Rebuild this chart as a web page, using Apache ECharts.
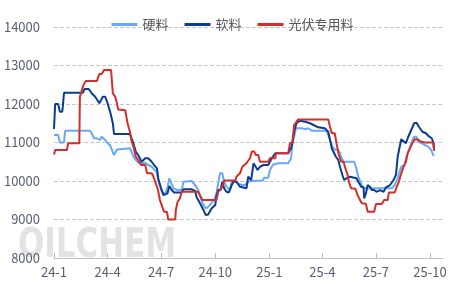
<!DOCTYPE html>
<html><head><meta charset="utf-8">
<script src="https://cdn.jsdelivr.net/npm/echarts@6/dist/echarts.min.js"></script>
<style>html,body{margin:0;padding:0;background:#fff}#c{width:465px;height:287px}</style>
</head><body><div id="c"></div>
<script>
var seriesNames = ['硬料','软料','光伏专用料'];
var tickDates = ['2024-01-01','2024-04-01','2024-07-01','2024-10-01','2025-01-01','2025-04-01','2025-07-01','2025-10-01'];
var tickLabels = ['24-1','24-4','24-7','24-10','25-1','25-4','25-7','25-10'];
var yTicks = [8000,9000,10000,11000,12000,13000,14000];
var xRange = ['2024-01-01','2025-10-23'];

var hardData = [['2024-01-01',11195],['2024-01-08',11195],['2024-01-11',11000],['2024-01-18',11000],['2024-01-20',11305],['2024-03-02',11305],['2024-03-05',11240],['2024-03-08',11240],['2024-03-09',11110],['2024-03-14',11110],['2024-03-16',11130],['2024-03-19',11065],['2024-03-22',11150],['2024-03-25',11150],['2024-03-28',11065],['2024-04-01',10980],['2024-04-05',10935],['2024-04-08',10890],['2024-04-12',10675],['2024-04-17',10820],['2024-04-19',10850],['2024-05-09',10850],['2024-05-12',10760],['2024-05-15',10630],['2024-05-19',10545],['2024-05-23',10475],['2024-05-29',10460],['2024-06-04',10475],['2024-06-09',10415],['2024-06-15',10370],['2024-06-19',10300],['2024-06-24',10240],['2024-06-26',10025],['2024-07-01',9765],['2024-07-05',9680],['2024-07-09',9700],['2024-07-12',9850],['2024-07-15',10070],['2024-07-18',10025],['2024-07-22',9810],['2024-07-28',9765],['2024-08-05',9765],['2024-08-08',9980],['2024-08-22',10000],['2024-08-29',9870],['2024-09-02',9765],['2024-09-07',9525],['2024-09-11',9375],['2024-09-15',9290],['2024-09-19',9330],['2024-09-24',9420],['2024-09-29',9505],['2024-10-03',9680],['2024-10-06',9940],['2024-10-09',10200],['2024-10-13',10200],['2024-10-16',9980],['2024-10-20',9850],['2024-10-26',9765],['2024-10-29',9980],['2024-11-04',10000],['2024-11-09',9940],['2024-11-15',9895],['2024-11-21',9895],['2024-11-26',9980],['2024-12-02',10000],['2024-12-21',10010],['2024-12-23',10085],['2024-12-30',10085],['2025-01-02',10285],['2025-01-05',10370],['2025-01-08',10430],['2025-01-16',10460],['2025-02-02',10460],['2025-02-07',10590],['2025-02-09',10980],['2025-02-12',11150],['2025-02-15',11370],['2025-02-25',11370],['2025-03-03',11345],['2025-03-08',11370],['2025-03-14',11305],['2025-04-08',11305],['2025-04-12',11150],['2025-04-14',11110],['2025-04-18',10895],['2025-04-22',10820],['2025-04-28',10805],['2025-05-01',10720],['2025-05-04',10590],['2025-05-07',10500],['2025-05-25',10500],['2025-05-28',10370],['2025-06-01',10110],['2025-06-07',9895],['2025-06-11',9810],['2025-07-28',9810],['2025-08-02',9895],['2025-08-07',10070],['2025-08-11',10285],['2025-08-14',10390],['2025-08-18',10390],['2025-08-22',10630],['2025-08-26',10805],['2025-08-31',11020],['2025-09-04',11150],['2025-09-08',11150],['2025-09-11',11020],['2025-09-17',10980],['2025-09-22',10935],['2025-09-28',10895],['2025-10-03',10805],['2025-10-07',10650]];

var softData = [['2024-01-01',11350],['2024-01-03',12000],['2024-01-08',12000],['2024-01-11',11800],['2024-01-15',11800],['2024-01-16',11930],['2024-01-18',12290],['2024-02-19',12290],['2024-02-22',12390],['2024-02-29',12390],['2024-03-05',12280],['2024-03-11',12190],['2024-03-14',12190],['2024-03-18',12020],['2024-03-24',12190],['2024-03-28',12190],['2024-04-01',12020],['2024-04-06',11760],['2024-04-10',11500],['2024-04-12',11220],['2024-05-09',11220],['2024-05-15',10975],['2024-05-19',10760],['2024-05-23',10675],['2024-05-29',10500],['2024-06-04',10590],['2024-06-09',10590],['2024-06-15',10500],['2024-06-19',10415],['2024-06-24',10330],['2024-06-26',10070],['2024-07-01',9810],['2024-07-05',9635],['2024-07-08',9620],['2024-07-12',9680],['2024-07-15',9870],['2024-07-19',9765],['2024-07-23',9700],['2024-08-05',9700],['2024-08-08',9785],['2024-08-22',9785],['2024-08-28',9740],['2024-08-30',9590],['2024-09-05',9420],['2024-09-11',9245],['2024-09-15',9115],['2024-09-19',9130],['2024-09-25',9290],['2024-10-01',9375],['2024-10-03',9610],['2024-10-06',9765],['2024-10-10',9765],['2024-10-13',9980],['2024-10-16',9810],['2024-10-20',9720],['2024-10-24',9700],['2024-10-29',9895],['2024-11-01',9980],['2024-11-06',9980],['2024-11-12',9850],['2024-11-23',9810],['2024-11-26',10110],['2024-12-01',10025],['2024-12-05',10460],['2024-12-08',10500],['2024-12-12',10285],['2024-12-16',10370],['2024-12-22',10415],['2024-12-30',10415],['2025-01-05',10590],['2025-01-11',10720],['2025-02-02',10720],['2025-02-07',10855],['2025-02-09',10980],['2025-02-12',11280],['2025-02-16',11500],['2025-02-22',11565],['2025-03-03',11540],['2025-03-11',11500],['2025-03-17',11455],['2025-03-25',11395],['2025-04-05',11370],['2025-04-11',11280],['2025-04-14',11065],['2025-04-17',10850],['2025-04-20',10800],['2025-04-24',10630],['2025-04-28',10545],['2025-05-01',10370],['2025-05-05',10155],['2025-05-08',10025],['2025-05-12',10070],['2025-05-18',10110],['2025-05-29',10070],['2025-06-01',9980],['2025-06-06',9850],['2025-06-10',9830],['2025-06-11',9550],['2025-06-14',9680],['2025-06-17',9895],['2025-06-21',9850],['2025-06-24',9765],['2025-06-28',9765],['2025-07-02',9720],['2025-07-08',9765],['2025-07-14',9720],['2025-07-18',9835],['2025-07-25',9895],['2025-07-31',10025],['2025-08-04',10155],['2025-08-07',10630],['2025-08-09',10785],['2025-08-13',11085],['2025-08-16',11085],['2025-08-21',10980],['2025-08-25',11150],['2025-08-30',11325],['2025-09-04',11500],['2025-09-08',11515],['2025-09-12',11410],['2025-09-18',11280],['2025-09-24',11240],['2025-09-28',11170],['2025-10-04',11110],['2025-10-07',10980],['2025-10-08',10805]];

var pvData = [['2024-01-01',10690],['2024-01-03',10805],['2024-01-23',10805],['2024-01-25',10980],['2024-02-13',10980],['2024-02-14',12190],['2024-02-17',12190],['2024-02-20',12490],['2024-02-24',12600],['2024-03-14',12600],['2024-03-18',12780],['2024-03-22',12780],['2024-03-26',12880],['2024-04-07',12880],['2024-04-10',12280],['2024-04-14',12190],['2024-04-17',12020],['2024-04-19',11860],['2024-05-01',11840],['2024-05-04',11840],['2024-05-05',11500],['2024-05-09',11280],['2024-05-12',11020],['2024-05-15',10895],['2024-05-19',10630],['2024-05-23',10545],['2024-05-28',10415],['2024-06-04',10415],['2024-06-07',10200],['2024-06-15',10200],['2024-06-18',10110],['2024-06-21',10110],['2024-06-25',9810],['2024-06-29',9505],['2024-07-02',9505],['2024-07-06',9200],['2024-07-11',9200],['2024-07-13',9000],['2024-07-25',9000],['2024-07-26',9245],['2024-07-29',9460],['2024-08-02',9550],['2024-08-05',9720],['2024-09-02',9720],['2024-09-05',9680],['2024-09-09',9505],['2024-10-03',9505],['2024-10-06',9720],['2024-10-09',9740],['2024-10-13',9850],['2024-10-16',10010],['2024-11-04',10010],['2024-11-06',10110],['2024-11-12',10200],['2024-11-16',10370],['2024-11-23',10460],['2024-11-29',10590],['2024-12-02',10760],['2024-12-06',10770],['2024-12-09',10675],['2024-12-13',10675],['2024-12-16',10500],['2024-12-30',10500],['2025-01-02',10590],['2025-01-11',10590],['2025-01-12',10720],['2025-02-02',10720],['2025-02-05',10980],['2025-02-09',10990],['2025-02-12',11455],['2025-02-16',11540],['2025-02-19',11600],['2025-04-11',11600],['2025-04-14',11410],['2025-04-17',11240],['2025-04-22',11240],['2025-04-25',10980],['2025-04-29',10675],['2025-05-03',10500],['2025-05-07',10500],['2025-05-11',10285],['2025-05-14',10155],['2025-05-16',9980],['2025-05-20',9810],['2025-05-27',9800],['2025-05-31',9635],['2025-06-04',9505],['2025-06-07',9420],['2025-06-14',9410],['2025-06-17',9200],['2025-06-28',9200],['2025-07-01',9400],['2025-07-11',9400],['2025-07-15',9505],['2025-07-21',9505],['2025-07-23',9700],['2025-08-02',9700],['2025-08-05',9835],['2025-08-09',9980],['2025-08-13',10200],['2025-08-17',10370],['2025-08-21',10500],['2025-08-24',10720],['2025-08-28',10855],['2025-09-01',10980],['2025-09-05',11085],['2025-09-11',11070],['2025-09-16',11020],['2025-09-22',11000],['2025-10-06',11000],['2025-10-08',10785]];

function toTime(s){var p=s.split('-');return Date.UTC(+p[0],+p[1]-1,+p[2]);}
var tickTimes = tickDates.map(toTime);
function conv(arr){return arr.map(function(p){return [toTime(p[0]), p[1]];});}

var chart = echarts.init(document.getElementById('c'), null, {renderer:'canvas'});
var font = '"Microsoft YaHei","Noto Sans CJK SC",sans-serif';
var colors = ['#6aa8f7','#0b3d8c','#d22f2b'];
function mk(name, data, color){
  return {name:name, type:'line', data:conv(data), symbol:'none', showSymbol:false, color:color,
    lineStyle:{width:2, color:color}, z:3};
}
chart.setOption({
  animation:false,
  graphic:[{type:'text', x:18, y:227, scaleX:0.86, z:0, silent:true,
    style:{text:'OILCHEM', fontSize:40, fontWeight:'bold',
      fontFamily:'"Liberation Sans Narrow","DejaVu Sans Condensed",sans-serif',
      fill:'#dedede', opacity:0.85}}],
  legend:{top:13, left:'center', itemWidth:26, itemHeight:3, itemGap:16,
    icon:'rect',
    textStyle:{fontSize:13, color:'#595959', fontFamily:font},
    data:seriesNames},
  grid:{left:54, right:22, top:27, bottom:29, containLabel:false},
  xAxis:{type:'value', min:toTime(xRange[0]), max:toTime(xRange[1]),
    axisLine:{lineStyle:{color:'#bfbfbf'}},
    axisTick:{show:true, inside:true, length:5, lineStyle:{color:'#bfbfbf'}, customValues:tickTimes},
    axisLabel:{customValues:tickTimes, fontSize:13, color:'#595c73', fontFamily:font, margin:8,
      formatter:function(v){var i=tickTimes.indexOf(v);return i>=0?tickLabels[i]:'';}},
    splitLine:{show:false}},
  yAxis:{type:'value', min:yTicks[0], max:yTicks[yTicks.length-1], interval:1000,
    axisLine:{show:false}, axisTick:{show:false},
    axisLabel:{fontSize:13, color:'#595c73', fontFamily:font, margin:14,
      formatter:function(v){return String(v);}},
    splitLine:{lineStyle:{type:'dashed', color:'#c8c8c8'}}},
  series:[mk(seriesNames[0], hardData, colors[0]), mk(seriesNames[1], softData, colors[1]), mk(seriesNames[2], pvData, colors[2])]
});
</script></body></html>
